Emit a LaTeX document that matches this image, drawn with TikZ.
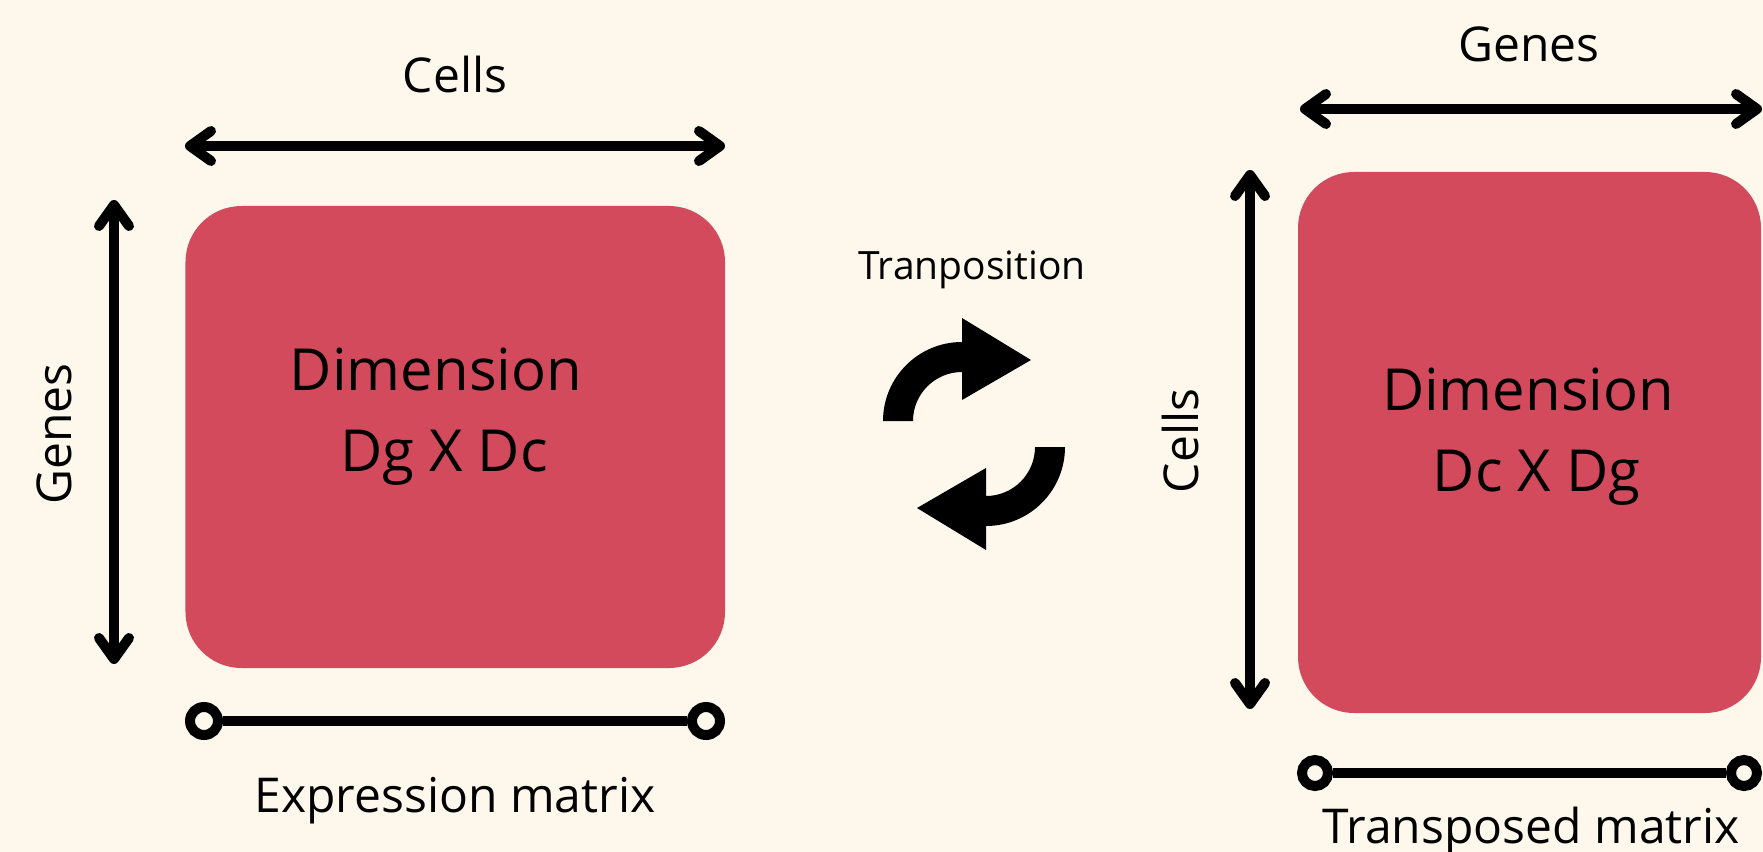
\documentclass[tikz,border=0pt]{standalone}
\usepackage{fontspec}
\setmainfont{Open Sans}
\usetikzlibrary{arrows.meta}
\definecolor{bg}{HTML}{FEF7EC}
\definecolor{boxred}{HTML}{D24A5C}
\begin{document}
\begin{tikzpicture}[x=1bp,y=-1bp,
  matbox/.style={draw=none, fill=boxred, rounded corners=56bp, inner sep=0pt, outer sep=0pt},
  lbl/.style={inner sep=0pt, anchor=base, font=\fontsize{48bp}{58bp}\selectfont},
  biglbl/.style={inner sep=0pt, anchor=base, font=\fontsize{58bp}{69bp}\selectfont},
  smalllbl/.style={inner sep=0pt, anchor=base, font=\fontsize{39bp}{47bp}\selectfont},
  dblarrow/.style={line width=10bp, {Straight Barb[length=21bp,width=30bp,round]}-{Straight Barb[length=21bp,width=30bp,round]}},
  bar/.style={line width=10bp},
  ring/.style={circle, draw, line width=10bp, fill=bg, minimum size=28bp, inner sep=0pt},
  ringsmall/.style={ring, minimum size=26bp},
  curvearrow/.style={fill=black, draw=none}
]
\path[fill=bg] (0,0) rectangle (1763,852);
\useasboundingbox (0,0) rectangle (1763,852);

% matrices
\node[matbox, minimum width=539.5bp, minimum height=462bp] (m1) at (455.25,437) {};
\node[matbox, minimum width=463bp, minimum height=541bp] (m2) at (1529.5,442.5) {};

% texts inside
\node[biglbl] (d1a) at (436,390) {Dimension};
\node[biglbl] (d1b) at (444,471) {Dg X Dc};
\node[biglbl] (d2a) at (1528,410) {Dimension};
\node[biglbl] (d2b) at (1536.5,491) {Dc X Dg};

% left matrix arrows
\coordinate (lt1) at (185,146);
\coordinate (lt2) at (725,146);
\draw[dblarrow] (lt1) -- (lt2);
\node[lbl] (cellsL) at (455,92) {Cells};
\coordinate (lv1) at (114,200);
\coordinate (lv2) at (114,664);
\draw[dblarrow] (lv1) -- (lv2);
\node[lbl, rotate=90] (genesL) at (71,434) {Genes};

% right matrix arrows
\coordinate (rt1) at (1300,109);
\coordinate (rt2) at (1762,109);
\draw[dblarrow] (rt1) -- (rt2);
\node[lbl] (genesR) at (1529,61) {Genes};
\coordinate (rv1) at (1250,170);
\coordinate (rv2) at (1250,709);
\draw[dblarrow] (rv1) -- (rv2);
\node[lbl, rotate=90] (cellsR) at (1198,441) {Cells};

% bars
\node[ring] (e1) at (204,721) {};
\node[ring] (e2) at (706,721) {};
\draw[bar] (e1) -- (e2);
\node[lbl] (expr) at (455,812) {Expression matrix};

\node[ringsmall] (f1) at (1315,773) {};
\node[ringsmall] (f2) at (1744,773) {};
\draw[bar] (f1) -- (f2);
\node[lbl] (transp) at (1531,843) {Transposed matrix};

% transposition
\node[smalllbl] (tr) at (972,279) {Tranposition};
\coordinate (sc) at (974,434);
\path[curvearrow] (883,421) arc (180:270:79) -- (962,318) -- (1031,360) -- (962,400) -- (962,372) arc (270:180:49) -- cycle;
\begin{scope}[rotate around={180:(sc)}]
\path[curvearrow] (883,421) arc (180:270:79) -- (962,318) -- (1031,360) -- (962,400) -- (962,372) arc (270:180:49) -- cycle;
\end{scope}
\end{tikzpicture}
\end{document}
